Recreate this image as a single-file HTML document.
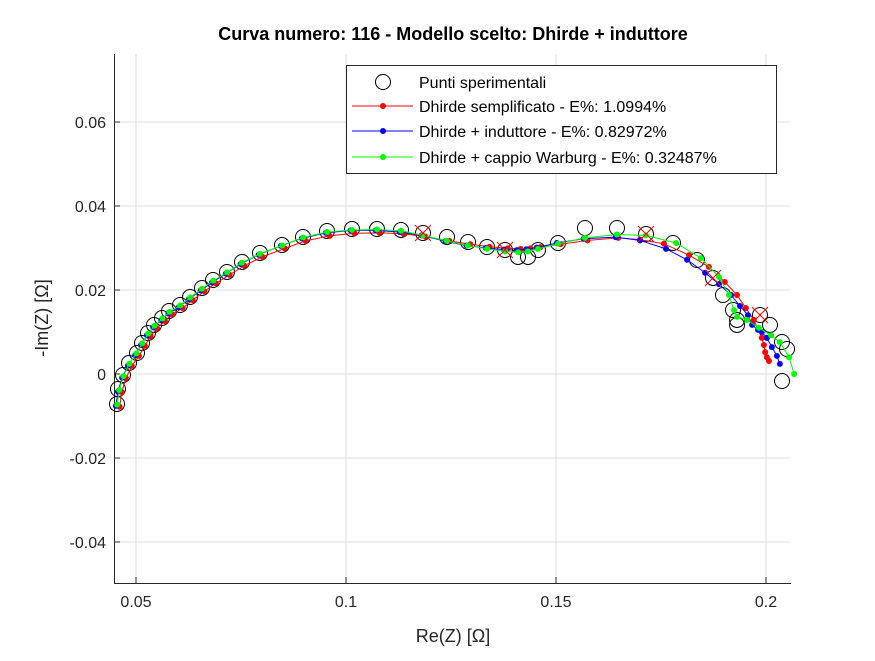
<!DOCTYPE html>
<html><head><meta charset="utf-8"><style>
body{margin:0;background:#fff;}
svg text{font-family:"Liberation Sans",Arial,sans-serif;}
</style></head><body>
<svg id="chart" width="875" height="656" viewBox="0 0 875 656">
<rect width="875" height="656" fill="#fff"/>
<g id="grid"></g>
<g id="axes"></g>
<g id="series"></g>
<text x="453" y="40" text-anchor="middle" font-size="18" font-weight="bold" fill="#000">Curva numero: 116 - Modello scelto: Dhirde + induttore</text>
<text x="453" y="642" text-anchor="middle" font-size="18" fill="#262626">Re(Z) [Ω]</text>
<text transform="translate(48,318) rotate(-90)" text-anchor="middle" font-size="18" fill="#262626">-Im(Z) [Ω]</text>
<g>
<rect x="346.5" y="65.5" width="430" height="108" fill="#fff" stroke="#262626" stroke-width="1"/>
<g><circle cx="383" cy="82" r="7.5" fill="none" stroke="#000"/><text x="419" y="88" font-size="16">Punti sperimentali</text></g>
<g><line x1="352" y1="106" x2="413" y2="106" stroke="#f00"/><circle cx="383" cy="106" r="3" fill="#f00"/><text x="419" y="112" font-size="16">Dhirde semplificato - E%: 1.0994%</text></g>
<g><line x1="352" y1="131" x2="413" y2="131" stroke="#00f"/><circle cx="383" cy="131" r="3" fill="#00f"/><text x="419" y="137" font-size="16">Dhirde + induttore - E%: 0.82972%</text></g>
<g><line x1="352" y1="157" x2="413" y2="157" stroke="#0f0"/><circle cx="383" cy="157" r="3" fill="#0f0"/><text x="419" y="163" font-size="16">Dhirde + cappio Warburg - E%: 0.32487%</text></g>
</g>
</svg>
<script>
const xTicks=[0.05,0.1,0.15,0.2];
const xTickLabels=["0.05","0.1","0.15","0.2"];
const yTicks=[-0.04,-0.02,0,0.02,0.04,0.06];
const yTickLabels=["-0.04","-0.02","0","0.02","0.04","0.06"];
const expRe=[0.04548,0.04571,0.04690,0.04833,0.05024,0.05143,0.05286,0.05429,0.05619,0.05786,0.06048,0.06286,0.06571,0.06833,0.07167,0.07524,0.07952,0.08476,0.08976,0.09548,0.10143,0.10738,0.11310,0.11833,0.12405,0.12905,0.13357,0.13786,0.14095,0.14333,0.14571,0.15048,0.15690,0.16452,0.17143,0.17786,0.18357,0.18738,0.18976,0.19214,0.19310,0.19310,0.19857,0.20095,0.20381,0.20500,0.20381];
const expIm=[-0.00714,-0.00357,-0.00024,0.00262,0.00500,0.00738,0.00976,0.01167,0.01333,0.01500,0.01643,0.01833,0.02048,0.02238,0.02429,0.02667,0.02881,0.03071,0.03262,0.03405,0.03452,0.03452,0.03429,0.03357,0.03262,0.03143,0.03024,0.02952,0.02786,0.02786,0.02952,0.03119,0.03476,0.03476,0.03333,0.03119,0.02714,0.02286,0.01881,0.01524,0.01286,0.01167,0.01405,0.01167,0.00762,0.00595,-0.00167];
const crossRe=[0.11833,0.13786,0.17143,0.18738,0.19857];
const crossIm=[0.03357,0.02952,0.03333,0.02286,0.01405];
const redRe=[0.0461,0.0466,0.0476,0.0490,0.0507,0.0521,0.0535,0.0550,0.0569,0.0586,0.0611,0.0635,0.0663,0.0690,0.0723,0.0758,0.0801,0.0854,0.0904,0.0961,0.1020,0.1080,0.1137,0.1189,0.1246,0.1296,0.1342,0.1385,0.1416,0.1439,0.1463,0.1511,0.1575,0.1648,0.1700,0.1757,0.1817,0.1864,0.1902,0.1931,0.1952,0.1971,0.1990,0.1995,0.1998,0.2002,0.2007];
const redIm=[-0.0078,-0.0043,-0.0010,0.0019,0.0043,0.0067,0.0090,0.0109,0.0126,0.0142,0.0157,0.0176,0.0197,0.0216,0.0236,0.0258,0.0279,0.0299,0.0317,0.0329,0.0335,0.0336,0.0334,0.0327,0.0317,0.0309,0.0303,0.0299,0.0298,0.0299,0.0302,0.0309,0.0318,0.0324,0.0320,0.0310,0.0283,0.0255,0.0219,0.0188,0.0157,0.0129,0.0086,0.0069,0.0052,0.0040,0.0031];
const blueRe=[0.0452,0.0457,0.0467,0.0481,0.0498,0.0512,0.0526,0.0541,0.0560,0.0577,0.0602,0.0626,0.0654,0.0681,0.0714,0.0749,0.0792,0.0845,0.0895,0.0952,0.1011,0.1071,0.1128,0.1180,0.1237,0.1287,0.1333,0.1376,0.1407,0.1430,0.1454,0.1502,0.1566,0.1642,0.1700,0.1762,0.1812,0.1855,0.1888,0.1917,0.1938,0.1957,0.1967,0.1981,0.1990,0.2002,0.2014,0.2026,0.2033];
const blueIm=[-0.0076,-0.0042,-0.0009,0.0020,0.0045,0.0069,0.0092,0.0111,0.0128,0.0144,0.0159,0.0178,0.0199,0.0218,0.0239,0.0262,0.0284,0.0305,0.0323,0.0336,0.0342,0.0342,0.0338,0.0330,0.0316,0.0306,0.0300,0.0296,0.0295,0.0297,0.0301,0.0312,0.0322,0.0326,0.0318,0.0298,0.0272,0.0241,0.0214,0.0188,0.0162,0.0140,0.0117,0.0105,0.0100,0.0086,0.0064,0.0043,0.0024];
const greenRe=[0.0455,0.0460,0.0470,0.0484,0.0501,0.0515,0.0529,0.0544,0.0563,0.0580,0.0605,0.0629,0.0657,0.0684,0.0717,0.0752,0.0795,0.0848,0.0898,0.0955,0.1014,0.1074,0.1131,0.1183,0.1240,0.1290,0.1336,0.1379,0.1410,0.1433,0.1457,0.1505,0.1569,0.1645,0.1714,0.1786,0.1845,0.1888,0.1912,0.1924,0.1931,0.1955,0.1983,0.2012,0.2033,0.2055,0.2067];
const greenIm=[-0.0073,-0.0038,-0.0005,0.0024,0.0049,0.0073,0.0096,0.0115,0.0132,0.0148,0.0163,0.0182,0.0203,0.0222,0.0242,0.0265,0.0286,0.0306,0.0325,0.0338,0.0343,0.0344,0.0341,0.0330,0.0317,0.0306,0.0298,0.0292,0.0290,0.0292,0.0298,0.0310,0.0324,0.0332,0.0330,0.0312,0.0276,0.0231,0.0188,0.0152,0.0136,0.0129,0.0110,0.0092,0.0076,0.0040,0.0000];

const L=114,R=791,T=54,B=583;
const x0=0.044762,x1=0.205952,y0=-0.049762,y1=0.07619;
const sx=v=>L+(v-x0)/(x1-x0)*(R-L);
const sy=v=>B-(v-y0)/(y1-y0)*(B-T);
const NS="http://www.w3.org/2000/svg";
function mk(tag,attrs,parent){const e=document.createElementNS(NS,tag);for(const k in attrs)e.setAttribute(k,attrs[k]);parent.appendChild(e);return e;}
const grid=document.getElementById('grid'),axes=document.getElementById('axes'),ser=document.getElementById('series');
xTicks.forEach((t,i)=>{const X=sx(t);
 const g=mk('line',{x1:X,x2:X,y1:T,y2:B,stroke:'#dfdfdf','stroke-width':1},grid);
 
 
 mk('line',{x1:X,x2:X,y1:B,y2:B-6,stroke:'#262626'},axes);
 const tx=mk('text',{x:X,y:B+24,'text-anchor':'middle','font-size':16,fill:'#262626'},axes);tx.textContent=xTickLabels[i];
 
 
});
yTicks.forEach((t,i)=>{const Y=sy(t);
 const g=mk('line',{x1:L,x2:R,y1:Y,y2:Y,stroke:'#dfdfdf','stroke-width':1},grid);
 
 
 mk('line',{x1:L,x2:L+6,y1:Y,y2:Y,stroke:'#262626'},axes);
 const tx=mk('text',{x:L-8,y:Y+6,'text-anchor':'end','font-size':16,fill:'#262626'},axes);tx.textContent=yTickLabels[i];
 
 
});
const xa=mk('line',{x1:L,x2:R,y1:B+0.5,y2:B+0.5,stroke:'#262626'},axes);


const ya=mk('line',{x1:L+0.5,x2:L+0.5,y1:T,y2:B,stroke:'#262626'},axes);



expRe.forEach((v,i)=>{const c=mk('circle',{cx:sx(v),cy:sy(expIm[i]),r:7.5,fill:'none',stroke:'#000','stroke-width':1},ser);
 
 });
function line(xs,ys,col,name){
 const p=mk('polyline',{points:xs.map((v,i)=>sx(v)+','+sy(ys[i])).join(' '),fill:'none',stroke:col,'stroke-width':1},ser);
 
 
 xs.forEach((v,i)=>{const c=mk('circle',{cx:sx(v),cy:sy(ys[i]),r:3,fill:col},ser);
  
  });
}
line(redRe,redIm,'#f00','red-fit');
line(blueRe,blueIm,'#00f','blue-fit');
line(greenRe,greenIm,'#0f0','green-fit');
crossRe.forEach((v,i)=>{const X=sx(v),Y=sy(crossIm[i]);
 const p=mk('path',{d:`M${X-8},${Y-8}L${X+8},${Y+8}M${X-8},${Y+8}L${X+8},${Y-8}`,stroke:'#f00','stroke-width':1,fill:'none'},ser);
 
 });
</script>
</body></html>
